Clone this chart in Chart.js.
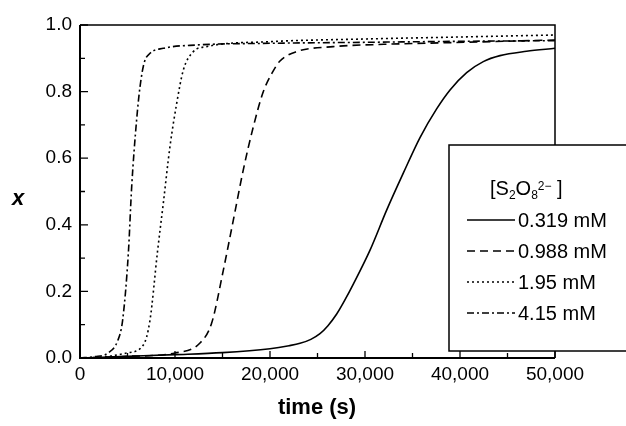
<!DOCTYPE html>
<html>
<head>
<meta charset="utf-8">
<script src="https://cdn.jsdelivr.net/npm/chart.js@4.4.1/dist/chart.umd.min.js"></script>
<style>
  html, body { margin: 0; padding: 0; background: #fff; }
  #wrap { width: 626px; height: 426px; }
</style>
</head>
<body>
<div id="wrap"><canvas id="c" width="626" height="426"></canvas></div>
<script>
// values
var t319 = [0, 5000, 10000, 15000, 20000, 22000, 23160, 24300, 25260, 26100, 27020, 27900, 28770, 30530, 32280, 34030, 35790, 37540, 38950, 40700, 42450, 44210, 47000, 50000];
var x319 = [0, 0.005, 0.01, 0.016, 0.028, 0.037, 0.044, 0.056, 0.073, 0.097, 0.132, 0.175, 0.222, 0.324, 0.444, 0.555, 0.662, 0.748, 0.805, 0.857, 0.89, 0.908, 0.921, 0.93];

var t988 = [0, 5000, 10000, 12630, 13860, 15090, 16140, 17190, 18250, 19300, 20300, 21050, 22800, 26650, 32000, 38950, 50000];
var x988 = [0, 0.005, 0.015, 0.045, 0.105, 0.264, 0.414, 0.565, 0.695, 0.8, 0.86, 0.892, 0.92, 0.935, 0.942, 0.947, 0.955];

var t195 = [0, 2500, 4900, 6670, 7370, 8140, 8770, 9470, 10180, 10880, 11930, 13330, 20000, 30000, 40000, 50000];
var x195 = [0, 0.003, 0.015, 0.039, 0.114, 0.315, 0.465, 0.635, 0.765, 0.865, 0.92, 0.935, 0.95, 0.958, 0.964, 0.97];

var t415 = [0, 1500, 2950, 4000, 4490, 5090, 5440, 5960, 6320, 6740, 7370, 8770, 12280, 20000, 30000, 40000, 50000];
var x415 = [0, 0.004, 0.015, 0.054, 0.114, 0.315, 0.514, 0.715, 0.815, 0.885, 0.915, 0.93, 0.94, 0.945, 0.948, 0.951, 0.953];

var seriesLabels = ['0.319 mM', '0.988 mM', '1.95 mM', '4.15 mM'];
var xTicks = [0, 10000, 20000, 30000, 40000, 50000];
var yTicks = [0, 0.2, 0.4, 0.6, 0.8, 1.0];

var FONT = '"Liberation Sans", Arial, sans-serif';
var dashes = [[], [8, 5], [2, 3], [7, 3, 2, 3]];

function pts(ts, xs) {
  var out = [];
  for (var i = 0; i < ts.length; i++) out.push({x: ts[i], y: xs[i]});
  return out;
}

var allT = [t319, t988, t195, t415];
var allX = [x319, x988, x195, x415];
var datasets = [];
for (var i = 0; i < 4; i++) {
  datasets.push({
    label: seriesLabels[i],
    data: pts(allT[i], allX[i]),
    borderColor: '#000',
    borderWidth: 1.6,
    borderDash: dashes[i],
    pointRadius: 0,
    fill: false,
    cubicInterpolationMode: 'monotone'
  });
}

// frame, inward ticks, axis titles and boxed legend
var decor = {
  id: 'decor',
  afterDraw: function(chart) {
    var ctx = chart.ctx;
    var a = chart.chartArea;
    var xs = chart.scales.x, ys = chart.scales.y;
    var boxL = 449, boxT = 145, boxB = 351;
    ctx.save();
    ctx.strokeStyle = '#000';
    ctx.setLineDash([]);

    // frame
    ctx.lineWidth = 1.5;
    ctx.beginPath();
    ctx.moveTo(a.left, a.top); ctx.lineTo(a.right, a.top); ctx.lineTo(a.right, a.bottom);
    ctx.stroke();
    ctx.lineWidth = 2;
    ctx.beginPath();
    ctx.moveTo(a.left, a.top); ctx.lineTo(a.left, a.bottom); ctx.lineTo(a.right, a.bottom);
    ctx.stroke();

    // ticks pointing into the plot
    ctx.lineWidth = 1.3;
    ctx.beginPath();
    for (var v = 0; v <= 50000; v += 5000) {
      var px = xs.getPixelForValue(v);
      var len = (v % 10000 === 0) ? 7 : 5;
      ctx.moveTo(px, a.bottom); ctx.lineTo(px, a.bottom - len);
    }
    for (var k = 0; k <= 10; k++) {
      var py = ys.getPixelForValue(k / 10);
      var len2 = (k % 2 === 0) ? 8 : 5;
      ctx.moveTo(a.left, py); ctx.lineTo(a.left + len2, py);
    }
    ctx.stroke();

    // axis titles
    ctx.fillStyle = '#000';
    ctx.textAlign = 'center';
    ctx.textBaseline = 'middle';
    ctx.font = 'italic bold 22px ' + FONT;
    ctx.fillText('x', 18, 199);
    ctx.font = 'bold 22px ' + FONT;
    ctx.fillText('time (s)', 317, 408);

    // legend box
    ctx.fillStyle = '#fff';
    ctx.fillRect(boxL, boxT, 200, boxB - boxT);
    ctx.lineWidth = 1.5;
    ctx.strokeRect(boxL, boxT, 200, boxB - boxT);

    ctx.fillStyle = '#000';
    ctx.textAlign = 'left';
    ctx.textBaseline = 'alphabetic';
    var bx = 490, by = 195;
    var big = '20px ' + FONT, small = '12px ' + FONT;
    ctx.font = big; ctx.fillText('[S', bx, by); bx += ctx.measureText('[S').width;
    ctx.font = small; ctx.fillText('2', bx, by + 4); bx += ctx.measureText('2').width;
    ctx.font = big; ctx.fillText('O', bx, by); bx += ctx.measureText('O').width;
    ctx.font = small; ctx.fillText('8', bx, by + 4); bx += ctx.measureText('8').width;
    ctx.fillText('2\u2212', bx, by - 5); bx += ctx.measureText('2\u2212').width;
    ctx.font = big; ctx.fillText(' ]', bx, by);

    var rows = [220, 251, 282, 313];
    for (var r = 0; r < chart.data.datasets.length; r++) {
      var ds = chart.data.datasets[r];
      ctx.lineWidth = 1.5;
      ctx.setLineDash(ds.borderDash);
      ctx.beginPath();
      ctx.moveTo(467, rows[r]); ctx.lineTo(515, rows[r]);
      ctx.stroke();
      ctx.setLineDash([]);
      ctx.font = big;
      ctx.textBaseline = 'middle';
      ctx.fillText(ds.label, 518, rows[r] + 1);
    }
    ctx.restore();
  }
};

new Chart(document.getElementById('c'), {
  type: 'line',
  data: {datasets: datasets},
  options: {
    responsive: false,
    animation: false,
    layout: {padding: {top: 25, right: 71, left: 0, bottom: 0}},
    plugins: {legend: {display: false}, tooltip: {enabled: false}},
    scales: {
      x: {
        type: 'linear', min: 0, max: 50000,
        afterBuildTicks: function(s) { s.ticks = xTicks.map(function(v) { return {value: v}; }); },
        ticks: {
          color: '#000', padding: 5, maxRotation: 0,
          font: {size: 19, family: FONT},
          callback: function(v) { return v.toLocaleString('en-US'); }
        },
        grid: {display: false, drawTicks: false},
        border: {display: false},
        afterFit: function(s) { s.height = 68; }
      },
      y: {
        min: 0, max: 1,
        afterBuildTicks: function(s) { s.ticks = yTicks.map(function(v) { return {value: v}; }); },
        ticks: {
          color: '#000', padding: 8,
          font: {size: 19, family: FONT},
          callback: function(v) { return v.toFixed(1); }
        },
        grid: {display: false, drawTicks: false},
        border: {display: false},
        afterFit: function(s) { s.width = 80; }
      }
    }
  },
  plugins: [decor]
});
</script>
</body>
</html>
